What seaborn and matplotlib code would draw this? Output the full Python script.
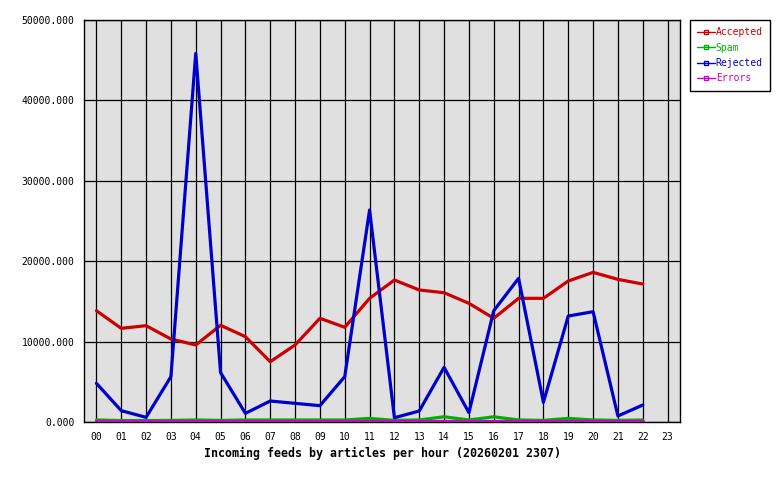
import matplotlib
matplotlib.use("Agg")
import matplotlib.pyplot as plt
from matplotlib.lines import Line2D
import pandas as pd
import seaborn as sns

hours = [f"{h:02d}" for h in range(24)]

accepted = [13840, 11650, 11980, 10320, 9580, 12030, 10610, 7500, 9580, 12900,
            11780, 15380, 17660, 16420, 16080, 14760, 12900, 15380, 15380, 17540,
            18610, 17740, 17160]
spam = [250, 180, 180, 200, 250, 200, 250, 250, 250, 250,
        250, 450, 200, 250, 650, 250, 650, 250, 200, 450,
        250, 200, 250]
rejected = [4810, 1410, 580, 5640, 45850, 6140, 1080, 2610, 2320, 2030,
            5640, 26370, 530, 1370, 6800, 1160, 13840, 17870, 2450, 13180,
            13720, 750, 2110]
errors = [100] * 23

series = {"Accepted": accepted, "Spam": spam, "Rejected": rejected, "Errors": errors}
colors = {"Accepted": "#cc0000", "Spam": "#00b000", "Rejected": "#0000cc", "Errors": "#cc00cc"}

rows = []
for name, vals in series.items():
    for h, v in enumerate(vals):
        rows.append({"hour": h, "articles": v, "series": name})
df = pd.DataFrame(rows)

sns.set_style("white")
plt.rcParams["font.family"] = ["DejaVu Sans Mono"]
plt.rcParams["text.color"] = "black"
plt.rcParams["xtick.color"] = "black"
plt.rcParams["ytick.color"] = "black"
plt.rcParams["axes.labelcolor"] = "black"

fig = plt.figure(figsize=(7.8, 4.8), dpi=100)
ax = fig.add_axes([84 / 780, 58 / 480, 596 / 780, 402 / 480])
ax.set_facecolor("#e0e0e0")

# one call per series so the draw order matches the original (errors on top)
for i, name in enumerate(series):
    sub = df[df["series"] == name]
    sns.lineplot(data=sub, x="hour", y="articles", color=colors[name],
                 linewidth=2.3, ax=ax, zorder=3 + i)

ax.set_xlim(-0.5, 23.5)
ax.set_ylim(0, 50000)
ax.set_xticks(range(24))
ax.set_xticklabels(hours)
ax.set_yticks(range(0, 50001, 10000))
ax.set_yticklabels([f"{v}.000" for v in range(0, 50001, 10000)])
ax.grid(True, color="black", linewidth=0.9, zorder=1)
ax.set_axisbelow(True)
for s in ax.spines.values():
    s.set_color("black")
    s.set_linewidth(1)
ax.tick_params(axis="both", length=4, width=0.9, color="black", labelsize=7, direction="out", pad=3)
ax.set_xlabel("Incoming feeds by articles per hour (20260201 2307)",
              fontsize=8.4, fontweight="bold", labelpad=4)
ax.set_ylabel("")

handles = [Line2D([0], [0], color=colors[n], linewidth=1, marker="s", markersize=2.5,
                  markerfacecolor="none", markeredgecolor=colors[n]) for n in series]
leg = fig.legend(handles, list(series), loc="upper left", bbox_to_anchor=(690 / 780, 1 - 20 / 480),
                 fontsize=7, frameon=True, fancybox=False, edgecolor="black", framealpha=1,
                 handlelength=1.8, handletextpad=0.1, borderpad=0.75, labelspacing=0.55,
                 borderaxespad=0)
leg.get_frame().set_linewidth(1)
for t, n in zip(leg.get_texts(), series):
    t.set_color(colors[n])

fig.savefig("out.png", dpi=100, facecolor="white")
